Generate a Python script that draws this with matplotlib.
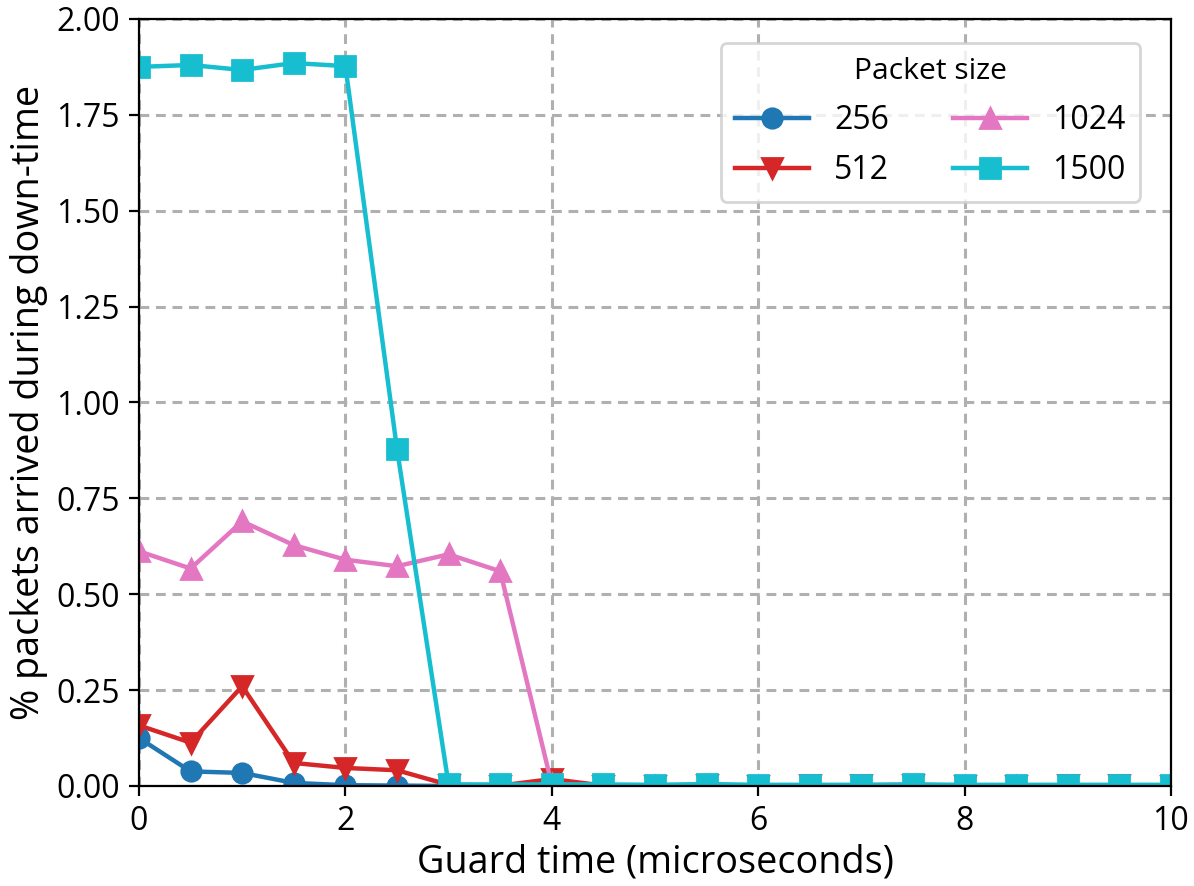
import matplotlib
matplotlib.use("Agg")
import matplotlib.pyplot as plt

plt.rcParams['font.family'] = ['Open Sans', 'DejaVu Sans']

guard_time = [0, 0.5, 1, 1.5, 2, 2.5, 3, 3.5, 4, 4.5, 5, 5.5, 6, 6.5, 7, 7.5, 8, 8.5, 9, 9.5, 10]

pkt_256 = [0.125, 0.038, 0.034, 0.008, 0.002, 0.001, 0, 0, 0, 0, 0, 0, 0, 0, 0, 0, 0, 0, 0, 0, 0]
pkt_512 = [0.158, 0.113, 0.260, 0.060, 0.047, 0.041, 0.003, 0.001, 0.018, 0.001,
           0.001, 0.003, 0.001, 0.002, 0.002, 0.003, 0.001, 0.001, 0.002, 0.002, 0.001]
pkt_1024 = [0.612, 0.567, 0.690, 0.628, 0.590, 0.573, 0.604, 0.560, 0.004, 0.001,
            0, 0, 0, 0, 0, 0, 0, 0, 0, 0, 0]
pkt_1500 = [1.875, 1.880, 1.867, 1.885, 1.877, 0.879, 0.004, 0.004, 0.004, 0.004,
            0.003, 0.005, 0.003, 0.003, 0.003, 0.004, 0.003, 0.003, 0.003, 0.003, 0.003]

series = [
    ("256", pkt_256, "#1f77b4", "o"),
    ("512", pkt_512, "#d62728", "v"),
    ("1024", pkt_1024, "#e377c2", "^"),
    ("1500", pkt_1500, "#17becf", "s"),
]

y_ticks = [0, 0.25, 0.5, 0.75, 1.0, 1.25, 1.5, 1.75, 2.0]

fig = plt.figure(figsize=(5.97, 4.43), dpi=200)
ax = fig.add_axes([0.1164, 0.1129, 0.8643, 0.8657])

for label, vals, color, marker in series:
    ax.plot(guard_time, vals, color=color, marker=marker, label=label,
            linewidth=1.6, markersize=7)

ax.set_xlim(0, 10)
ax.set_ylim(0, 2.0)
ax.set_xticks([0, 2, 4, 6, 8, 10])
ax.set_yticks(y_ticks)
ax.set_yticklabels([f"{v:.2f}" for v in y_ticks])
ax.grid(True, linestyle=(0, (3.2, 2.2)), color="#b0b0b0", linewidth=1.1)
ax.set_axisbelow(True)
ax.tick_params(labelsize=11.5)
ax.set_xlabel("Guard time (microseconds)", fontsize=13.6, labelpad=2)
ax.set_ylabel("% packets arrived during down-time", fontsize=13.6, labelpad=3)

ax.legend(title="Packet size", ncol=2, loc="upper right", fontsize=11.5,
          title_fontsize=10.8, bbox_to_anchor=(0.970, 0.969), borderaxespad=0,
          handlelength=2.3, columnspacing=2.0, handletextpad=0.8,
          labelspacing=0.55, borderpad=0.45)

fig.savefig("out.png", dpi=200)
